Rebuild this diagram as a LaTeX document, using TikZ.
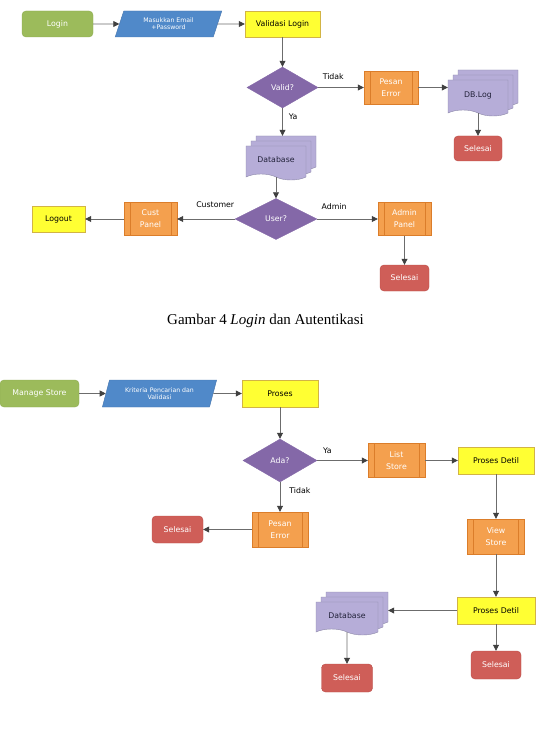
\documentclass[tikz,border=0pt]{standalone}
\usepackage{fontspec}
\setmainfont{Liberation Serif}
\newfontfamily\chartfont{DejaVu Sans}
\usetikzlibrary{positioning, shapes.geometric, shapes.symbols, shadows, arrows.meta}

\definecolor{termgreen}{HTML}{9CBB5B}
\definecolor{termgreenline}{HTML}{8CAA50}
\definecolor{inblue}{HTML}{5089C9}
\definecolor{inblueline}{HTML}{4674AC}
\definecolor{procyellow}{HTML}{FFFF33}
\definecolor{procyellowline}{HTML}{D2B445}
\definecolor{suborange}{HTML}{F4A04E}
\definecolor{suborangeline}{HTML}{DB7D2A}
\definecolor{decpurple}{HTML}{8468A8}
\definecolor{stopred}{HTML}{CF5E58}
\definecolor{stopredline}{HTML}{B94C47}
\definecolor{dbfill}{HTML}{B6ADD8}
\definecolor{dbline}{HTML}{8C88A8}
\definecolor{dbtext}{HTML}{22223A}
\definecolor{linegray}{HTML}{6C6C6C}
\definecolor{tipgray}{HTML}{404040}

\begin{document}
\begin{tikzpicture}[node distance=60pt]

    \tikzset{
        base/.style = {text centered, inner sep=1pt, font=\chartfont\fontsize{7.8}{9}\selectfont},
        terminal/.style = {base, rectangle, rounded corners=4pt, minimum width=71pt, minimum height=26pt, draw=termgreenline, fill=termgreen, text=white},
        stopbox/.style = {base, rectangle, rounded corners=4pt, minimum width=50pt, minimum height=27pt, draw=stopredline, fill=stopred, text=white},
        inputbox/.style = {base, trapezium, trapezium left angle=70, trapezium right angle=110, trapezium stretches=true, minimum height=26pt, draw=inblueline, fill=inblue, text=white, align=center, font=\chartfont\fontsize{6.2}{7}\selectfont},
        process/.style = {base, rectangle, minimum width=76pt, minimum height=27pt, draw=procyellowline, fill=procyellow},
        subprocess/.style = {base, rectangle, minimum width=56pt, minimum height=34pt, draw=suborangeline, fill=suborange, text=white, align=center, font=\chartfont\fontsize{7.8}{12}\selectfont,
            path picture={\draw [suborangeline] ([xshift=6pt]path picture bounding box.north west) -- ([xshift=6pt]path picture bounding box.south west) ([xshift=-6pt]path picture bounding box.north east) -- ([xshift=-6pt]path picture bounding box.south east);}},
        decision/.style = {base, diamond, minimum width=72pt, minimum height=42pt, inner sep=0pt, draw=decpurple, fill=decpurple, text=white},
        storage/.style = {base, tape, tape bend top=none, tape bend bottom=out and in, tape bend height=6pt, minimum width=60pt, minimum height=34pt, draw=dbline, fill=dbfill, text=dbtext,
            general shadow={shadow xshift=10pt, shadow yshift=10pt, draw=dbline, fill=dbfill},
            general shadow={shadow xshift=5pt, shadow yshift=5pt, draw=dbline, fill=dbfill}},
        branch/.style = {font=\chartfont\fontsize{7.8}{9}\selectfont, inner sep=1pt},
        arrow/.style = {draw=linegray, line width=0.8pt, -{Triangle[length=6pt, width=6pt, color=tipgray]}},
        caption/.style = {font=\fontsize{15}{18}\selectfont, inner sep=0pt}
    }

    \useasboundingbox (0pt,0pt) rectangle (537pt,-730pt);

    \node (login) [terminal] at (57.5pt,-24pt) {Login};
    \node (email) [inputbox, right of=login, node distance=111pt, minimum width=107pt] {Masukkan Email\\+Password};
    \node (validasi) [process, right of=email, node distance=114pt, minimum width=75pt, minimum height=26pt] {Validasi Login};
    \node (valid) [decision, below of=validasi, node distance=63.5pt, minimum width=71pt, minimum height=41pt] {Valid?};
    \node (error) [subprocess, right of=valid, node distance=108.5pt, minimum width=54pt, minimum height=33pt] {Pesan\\Error};
    \node (dblog) [storage, right of=error, node distance=87pt, yshift=-7.5pt, minimum height=36pt] {DB.Log};
    \node (endlog) [stopbox, below of=dblog, node distance=53.5pt, minimum width=48pt, minimum height=25pt] {Selesai};
    \node (db) [storage, below of=valid, node distance=72.5pt, xshift=-6.5pt] {Database};
    \node (user) [decision, below of=db, node distance=59pt, minimum width=82pt, minimum height=41pt] {User?};
    \node (cust) [subprocess, left of=user, node distance=125.5pt, minimum width=53pt, minimum height=33pt] {Cust\\Panel};
    \node (logout) [process, left of=cust, node distance=92pt, minimum width=53pt, minimum height=26pt] {Logout};
    \node (admin) [subprocess, right of=user, node distance=128.5pt, minimum width=53pt, minimum height=33pt] {Admin\\Panel};
    \node (endadmin) [stopbox, below of=admin, node distance=59pt, minimum width=49pt, minimum height=26pt] {Selesai};

    \node (cap) [caption, anchor=base] at (265.5pt,-324pt) {Gambar 4 \textit{Login} dan Autentikasi};

    \node (manage) [terminal, minimum width=79pt, minimum height=27pt] at (39.5pt,-393.5pt) {Manage Store};
    \node (kriteria) [inputbox, right of=manage, node distance=120pt, minimum width=115pt, minimum height=27pt] {Kriteria Pencarian dan\\Validasi};
    \node (proses) [process, right of=kriteria, node distance=120.5pt] {Proses};
    \node (ada) [decision, below of=proses, node distance=67pt, minimum width=74pt, minimum height=43pt] {Ada?};
    \node (list) [subprocess, right of=ada, node distance=116.5pt, minimum width=57pt] {List\\Store};
    \node (detil) [process, right of=list, node distance=99.5pt] {Proses Detil};
    \node (error2) [subprocess, below of=ada, node distance=69pt, minimum height=35pt] {Pesan\\Error};
    \node (end2) [stopbox, left of=error2, node distance=102.5pt, minimum width=51pt] {Selesai};
    \node (view) [subprocess, below of=detil, node distance=76pt, minimum width=57pt, minimum height=35pt] {View\\Store};
    \node (detil2) [process, below of=view, node distance=74pt, minimum width=78pt] {Proses Detil};
    \node (end3) [stopbox, below of=detil2, node distance=54.5pt, minimum height=28pt] {Selesai};
    \node (db2) [storage, left of=detil2, node distance=149pt, yshift=-5pt, minimum width=62pt, minimum height=33pt] {Database};
    \node (end4) [stopbox, below of=db2, node distance=62.5pt, minimum width=51pt, minimum height=28pt] {Selesai};

    \draw [arrow] (login) -- (email);
    \draw [arrow] (email) -- (validasi);
    \draw [arrow] (validasi) -- (valid);
    \draw [arrow] (valid) -- node [branch, pos=0.33, above=6.5pt] {Tidak} (error);
    \draw [arrow] (error.east) -- (error.east -| dblog.west);
    \draw [arrow] (dblog) -- (endlog);
    \draw [arrow] (valid) -- node [branch, pos=0.3, right=5pt] {Ya} ([yshift=10pt]valid.south |- db.north);
    \draw [arrow] (db) -- (user);
    \draw [arrow] (user) -- node [branch, pos=0.34, above=9.5pt] {Customer} (cust);
    \draw [arrow] (cust) -- (logout);
    \draw [arrow] (user) -- node [branch, pos=0.28, above=7.5pt] {Admin} (admin);
    \draw [arrow] (admin) -- (endadmin);

    \draw [arrow] (manage) -- (kriteria);
    \draw [arrow] (kriteria) -- (proses);
    \draw [arrow] (proses) -- (ada);
    \draw [arrow] (ada) -- node [branch, pos=0.2, above=5.5pt] {Ya} (list);
    \draw [arrow] (list) -- (detil);
    \draw [arrow] (detil) -- (view);
    \draw [arrow] (view) -- (detil2);
    \draw [arrow] (detil2) -- (end3);
    \draw [arrow] (detil2.west) -- ([xshift=10pt]detil2.west -| db2.east);
    \draw [arrow] (db2) -- (end4);
    \draw [arrow] (ada) -- node [branch, pos=0.3, right=8pt] {Tidak} (error2);
    \draw [arrow] (error2) -- (end2);
\end{tikzpicture}
\end{document}
